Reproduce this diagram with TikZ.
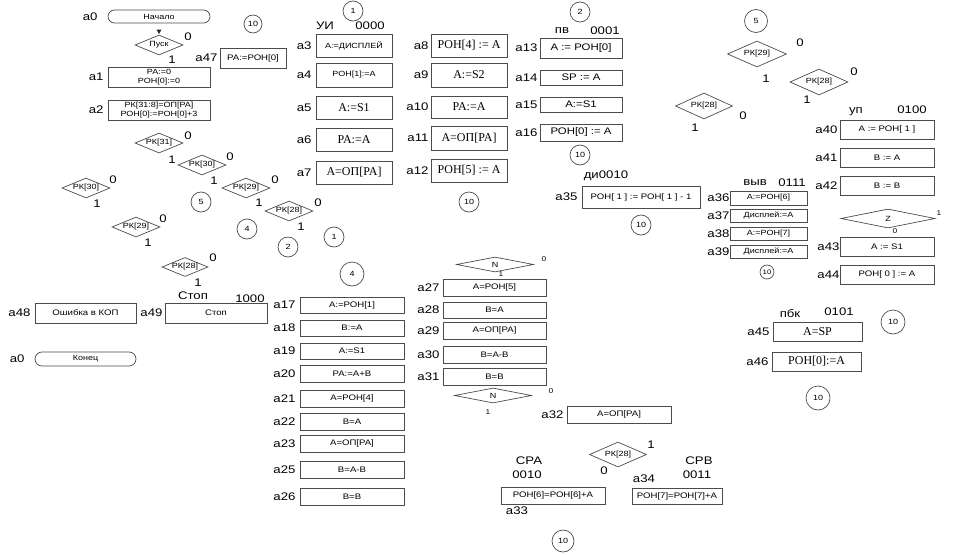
\documentclass[tikz,border=0pt]{standalone}
\usepackage{fontspec}
\setmainfont{Liberation Sans}[FakeStretch=1.2]
\newfontfamily\serifpart{Liberation Serif}
\usepackage{tikz}
\usetikzlibrary{positioning,shapes.geometric,shapes.misc}

\begin{document}
\begin{tikzpicture}[
  x=1pt, y=-1pt,
  lab/.style={font=\fontsize{11}{12}\selectfont, inner sep=0pt},
  bit/.style={font=\fontsize{11}{12}\selectfont, inner sep=0pt},
  sbit/.style={font=\fontsize{7}{8}\selectfont, inner sep=0pt},
  sz/.style 2 args={minimum width=#1pt, minimum height=#2pt},
  blk/.style={draw=black!70, line width=0.7pt, inner sep=0pt, align=center, font=\fontsize{8}{9}\selectfont},
  sblk/.style={blk, font=\serifpart\fontsize{12}{13}\selectfont},
  mblk/.style={blk, font=\fontsize{9.5}{10}\selectfont},
  term/.style={blk, rounded rectangle, font=\fontsize{7.5}{8}\selectfont},
  cond/.style={draw=black!70, line width=0.7pt, diamond, aspect=2.6, inner sep=0pt, font=\fontsize{7.5}{8}\selectfont},
  wcond/.style={cond, aspect=5.2},
  conn/.style={draw=black!70, line width=0.7pt, circle, inner sep=0pt, minimum size=20pt, font=\fontsize{7.5}{8}\selectfont},
]
\useasboundingbox (0,0) rectangle (971,554);
% start and dispatch
\node[term, sz={102}{13}] (start) at (159,16.5) {Начало};
\node[lab, left=10pt of start] (la0) {a0};
\fill[black!85] (156.5,29.5) -- (161.5,29.5) -- (159,34) -- cycle;
\node[cond, sz={48}{20}] (pusk) at (159,45) {Пуск};
\node[bit] (pusk0) at (188,37) {0};
\node[bit] (pusk1) at (172,60) {1};
\node[conn, minimum size=18pt] (c10a) at (253,24) {10};
\node[blk, sz={66}{20}] (b47) at (253,58) {PA:=РОН[0]};
\node[lab, left=2pt of b47] (la47) {a47};
\node[blk, sz={102}{20}, font=\fontsize{7.5}{8.5}\selectfont] (b1) at (159,77) {PA:=0\\РОН[0]:=0};
\node[lab, left=4pt of b1] (la1) {a1};
\node[blk, sz={102}{20}, font=\fontsize{7.5}{8.5}\selectfont] (b2) at (159,110) {РК[31:8]=ОП[PA]\\РОН[0]:=РОН[0]+3};
\node[lab, left=4pt of b2] (la2) {a2};
% opcode tree
\node[cond, sz={48}{20}] (rk31) at (159,143) {РК[31]};
\node[bit] (rk31z) at (188,136) {0};
\node[bit] (rk31o) at (172,160) {1};
\node[cond, sz={48}{20}] (rk30a) at (202,165) {РК[30]};
\node[bit] (rk30az) at (230,157) {0};
\node[bit] (rk30ao) at (214,181) {1};
\node[cond, sz={48}{20}] (rk30b) at (86,188) {РК[30]};
\node[bit] (rk30bz) at (113,180) {0};
\node[bit] (rk30bo) at (97,204) {1};
\node[cond, sz={48}{20}] (rk29a) at (246,188) {РК[29]};
\node[bit] (rk29az) at (275,180) {0};
\node[bit] (rk29ao) at (259,203) {1};
\node[cond, sz={48}{20}] (rk28a) at (289,211) {РК[28]};
\node[bit] (rk28az) at (318,203) {0};
\node[bit] (rk28ao) at (301,227) {1};
\node[cond, sz={48}{20}] (rk29b) at (136,227) {РК[29]};
\node[bit] (rk29bz) at (163,219) {0};
\node[bit] (rk29bo) at (148,243) {1};
\node[cond, sz={46}{19}] (rk28b) at (185,267) {РК[28]};
\node[bit] (rk28bz) at (213,258) {0};
\node[bit] (rk28bo) at (198,283) {1};
\node[conn] (c5a) at (201,202) {5};
\node[conn] (c4a) at (247,229) {4};
\node[conn] (c2a) at (288,247) {2};
\node[conn] (c1a) at (334,237) {1};
% stop / error
\node[lab] (hstop) at (193,296) {Стоп};
\node[lab] (hstopc) at (250,299) {1000};
\node[blk, sz={101}{20}] (b48) at (85.5,313) {Ошибка в КОП};
\node[lab, left=4pt of b48] (la48) {a48};
\node[blk, sz={102}{20}] (b49) at (216,313) {Стоп};
\node[lab, left=2pt of b49] (la49) {a49};
\node[term, sz={101}{14}] (stop) at (85.5,359) {Конец};
\node[lab, left=10pt of stop] (la0b) {a0};
% UI 0000
\node[conn] (c1b) at (353,11) {1};
\node[lab] (hui) at (325,26) {УИ};
\node[lab] (huic) at (370,26) {0000};
\node[blk, sz={76}{23}, font=\fontsize{7.5}{8}\selectfont] (b3) at (354,45.5) {A:=ДИСПЛЕЙ};
\node[lab, left=4pt of b3] (la3) {a3};
\node[blk, sz={76}{24}, font=\fontsize{7.5}{8}\selectfont] (b4) at (354,75) {РОН[1]:=A};
\node[lab, left=4pt of b4] (la4) {a4};
\node[sblk, sz={76}{23}] (b5) at (354,107.5) {A:=S1};
\node[lab, left=4pt of b5] (la5) {a5};
\node[sblk, sz={76}{23}] (b6) at (354,139.5) {PA:=A};
\node[lab, left=4pt of b6] (la6) {a6};
\node[sblk, sz={76}{23}] (b7) at (354,172.5) {A=ОП[PA]};
\node[lab, left=4pt of b7] (la7) {a7};
\node[sblk, sz={76}{23}] (b8) at (469,45.5) {РОН[4] := A};
\node[lab, left=2pt of b8] (la8) {a8};
\node[sblk, sz={76}{24}] (b9) at (469,75) {A:=S2};
\node[lab, left=2pt of b9] (la9) {a9};
\node[sblk, sz={76}{22}] (b10) at (469,107) {PA:=A};
\node[lab, left=2pt of b10] (la10) {a10};
\node[sblk, sz={76}{24}] (b11) at (469,138) {A=ОП[PA]};
\node[lab, left=2pt of b11] (la11) {a11};
\node[sblk, sz={76}{23}] (b12) at (469,170.5) {РОН[5] := A};
\node[lab, left=2pt of b12] (la12) {a12};
\node[conn] (c10b) at (469,202) {10};
% PV 0001
\node[conn] (c2b) at (580,12) {2};
\node[lab] (hpv) at (562,31) {пв};
\node[lab] (hpvc) at (605,31) {0001};
\node[mblk, sz={82}{20}] (b13) at (581,48) {A := РОН[0]};
\node[lab, left=2pt of b13] (la13) {a13};
\node[mblk, sz={82}{15}] (b14) at (581,77.5) {SP := A};
\node[lab, left=2pt of b14] (la14) {a14};
\node[mblk, sz={82}{15}] (b15) at (581,104.5) {A:=S1};
\node[lab, left=2pt of b15] (la15) {a15};
\node[mblk, sz={82}{17}] (b16) at (581,132.5) {РОН[0] := A};
\node[lab, left=2pt of b16] (la16) {a16};
\node[conn] (c10c) at (580,155) {10};
% DI 0010
\node[lab] (hdi) at (606,176) {ди0010};
\node[blk, sz={118}{22}] (b35) at (641,197) {РОН[ 1 ] := РОН[ 1 ] - 1};
\node[lab, left=4pt of b35] (la35) {a35};
\node[conn] (c10d) at (641,225) {10};
% second tree
\node[conn, minimum size=23pt] (c5b) at (756,21) {5};
\node[cond, sz={59}{26}, aspect=2.3] (rk29c) at (757,54) {РК[29]};
\node[bit] (rk29cz) at (800,43) {0};
\node[bit] (rk29co) at (766,79) {1};
\node[cond, sz={58}{26}, aspect=2.3] (rk28c) at (819,82) {РК[28]};
\node[bit] (rk28cz) at (854,72) {0};
\node[bit] (rk28co) at (807,100) {1};
\node[cond, sz={57}{26}, aspect=2.3] (rk28d) at (704,106) {РК[28]};
\node[bit] (rk28dz) at (743,116) {0};
\node[bit] (rk28do) at (695,128) {1};
% UP 0100
\node[lab] (hup) at (856,112) {уп};
\node[lab] (hupc) at (912,110) {0100};
\node[blk, sz={94}{19}] (b40) at (887,129.5) {A := РОН[ 1 ]};
\node[lab, left=2pt of b40] (la40) {a40};
\node[blk, sz={94}{19}] (b41) at (887,157.5) {B := A};
\node[lab, left=2pt of b41] (la41) {a41};
\node[blk, sz={94}{19}] (b42) at (887,185.5) {B := B};
\node[lab, left=2pt of b42] (la42) {a42};
\node[wcond, sz={94}{19}] (zf) at (888,218.5) {Z};
\node[sbit] (zfo) at (939,213) {1};
\node[sbit] (zfz) at (895,231) {0};
\node[blk, sz={94}{19}] (b43) at (887,246.5) {A := S1};
\node[lab, left=0pt of b43] (la43) {a43};
\node[blk, sz={94}{19}] (b44) at (887,274.5) {РОН[ 0 ] := A};
\node[lab, left=0pt of b44] (la44) {a44};
% VYV 0111
\node[lab] (hvyv) at (755,183) {выв};
\node[lab] (hvyvc) at (792,183) {0111};
\node[blk, sz={77}{14}, font=\fontsize{7.5}{8}\selectfont] (b36) at (768.5,198) {A:=РОН[6]};
\node[lab, left=0pt of b36] (la36) {a36};
\node[blk, sz={77}{13}, font=\fontsize{7.5}{8}\selectfont] (b37) at (768.5,215.5) {Дисплей:=A};
\node[lab, left=0pt of b37] (la37) {a37};
\node[blk, sz={77}{13}, font=\fontsize{7.5}{8}\selectfont] (b38) at (768.5,233.5) {A:=РОН[7]};
\node[lab, left=0pt of b38] (la38) {a38};
\node[blk, sz={77}{13}, font=\fontsize{7.5}{8}\selectfont] (b39) at (768.5,251.5) {Дисплей:=A};
\node[lab, left=0pt of b39] (la39) {a39};
\node[conn, minimum size=14pt, font=\fontsize{6.5}{7}\selectfont] (c10e) at (767,272) {10};
% PBK 0101
\node[lab] (hpbk) at (790,314) {пбк};
\node[lab] (hpbkc) at (839,312) {0101};
\node[sblk, sz={89}{19}] (b45) at (817.5,331.5) {A=SP};
\node[lab, left=3pt of b45] (la45) {a45};
\node[sblk, sz={89}{19}] (b46) at (816.5,361.5) {РОН[0]:=A};
\node[lab, left=3pt of b46] (la46) {a46};
\node[conn, minimum size=24pt] (c10f) at (893,322) {10};
\node[conn, minimum size=24pt] (c10g) at (818,398) {10};
% compare group
\node[conn, minimum size=24pt] (c4b) at (352,274) {4};
\node[blk, sz={104}{16}] (b17) at (352,305) {A:=РОН[1]};
\node[lab, left=4pt of b17] (la17) {a17};
\node[blk, sz={104}{16}] (b18) at (352,328) {B:=A};
\node[lab, left=4pt of b18] (la18) {a18};
\node[blk, sz={104}{16}] (b19) at (352,351) {A:=S1};
\node[lab, left=4pt of b19] (la19) {a19};
\node[blk, sz={104}{17}] (b20) at (352,373.5) {PA:=A+B};
\node[lab, left=4pt of b20] (la20) {a20};
\node[blk, sz={104}{17}] (b21) at (352,398.5) {A=РОН[4]};
\node[lab, left=4pt of b21] (la21) {a21};
\node[blk, sz={104}{17}] (b22) at (352,421.5) {B=A};
\node[lab, left=4pt of b22] (la22) {a22};
\node[blk, sz={104}{17}] (b23) at (352,443.5) {A=ОП[PA]};
\node[lab, left=4pt of b23] (la23) {a23};
\node[blk, sz={104}{17}] (b25) at (352,469.5) {B=A-B};
\node[lab, left=4pt of b25] (la25) {a25};
\node[blk, sz={104}{17}] (b26) at (352,496.5) {B=B};
\node[lab, left=4pt of b26] (la26) {a26};
\node[wcond, sz={77}{15}] (n1) at (495,264.5) {N};
\node[sbit] (n1z) at (544,259) {0};
\node[sbit] (n1o) at (501,274) {1};
\node[blk, sz={103}{17}] (b27) at (494.5,287.5) {A=РОН[5]};
\node[lab, left=3pt of b27] (la27) {a27};
\node[blk, sz={103}{16}] (b28) at (494.5,310) {B=A};
\node[lab, left=3pt of b28] (la28) {a28};
\node[blk, sz={103}{17}] (b29) at (494.5,330.5) {A=ОП[PA]};
\node[lab, left=3pt of b29] (la29) {a29};
\node[blk, sz={103}{17}] (b30) at (494.5,354.5) {B=A-B};
\node[lab, left=3pt of b30] (la30) {a30};
\node[blk, sz={103}{17}] (b31) at (494.5,376.5) {B=B};
\node[lab, left=3pt of b31] (la31) {a31};
\node[wcond, sz={77}{15}] (n2) at (493,395.5) {N};
\node[sbit] (n2z) at (551,391) {0};
\node[sbit] (n2o) at (488,412) {1};
\node[blk, sz={104}{17}] (b32) at (619,414.5) {A=ОП[PA]};
\node[lab, left=3pt of b32] (la32) {a32};
% SRA / SRB
\node[cond, sz={57}{25}, aspect=2.3] (rk28e) at (618,454.5) {РК[28]};
\node[bit] (rk28eo) at (651,445) {1};
\node[bit] (rk28ez) at (604,471) {0};
\node[lab] (hsra) at (529,461) {СРА};
\node[lab] (hsrac) at (527,475) {0010};
\node[lab] (hsrb) at (699,461) {СРВ};
\node[lab] (hsrbc) at (697,475) {0011};
\node[blk, sz={104}{17}] (b33) at (553,495.5) {РОН[6]=РОН[6]+A};
\node[lab] (la33) at (517,511) {a33};
\node[blk, sz={90}{16}] (b34) at (677,496) {РОН[7]=РОН[7]+A};
\node[lab] (la34) at (644,479) {a34};
\node[conn, minimum size=22pt] (c10h) at (563,541) {10};
\end{tikzpicture}
\end{document}
